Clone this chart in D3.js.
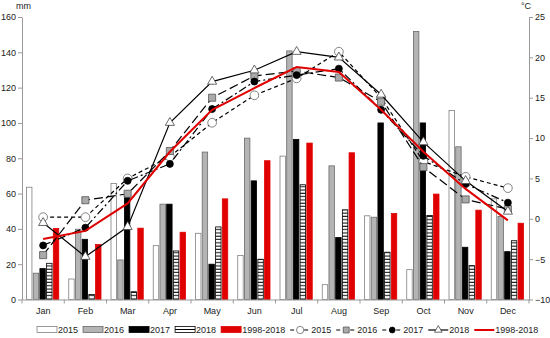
<!DOCTYPE html>
<meta charset="utf-8">
<head>
  <script src="https://d3js.org/d3.v7.min.js"></script>
</head>
<style>
body { margin: 0; background: #fff; }
svg { font-family: Arial, "Liberation Sans", sans-serif; }
.axis text { font-size: 9px; fill: #222; }
.axis path, .axis line { stroke: #999; }
.legend text { font-size: 9px; fill: #222; }
</style>
<body>
<div id="chart"></div>
<script>

var months = ["Jan", "Feb", "Mar", "Apr", "May", "Jun", "Jul", "Aug", "Sep", "Oct", "Nov", "Dec"];

// precipitation, mm
var rain2015 = [63.6, 11.6, 65.7, 30.5, 37.5, 24.9, 81.2, 8.4, 47.4, 16.9, 107.1, 57.0];
var rain2016 = [14.9, 39.8, 22.4, 54.0, 83.5, 91.4, 140.8, 75.7, 46.6, 151.8, 86.5, 47.0];
var rain2017 = [17.5, 34.1, 59.5, 54.0, 20.0, 67.2, 90.7, 35.1, 100.0, 100.0, 29.6, 27.1];
var rain2018 = [20.5, 2.9, 4.4, 27.5, 41.1, 22.8, 65.0, 50.8, 26.8, 47.6, 19.2, 33.3];
var rainMean = [40.2, 31.1, 40.4, 38.1, 57.0, 78.6, 88.6, 83.1, 48.7, 59.7, 50.6, 43.2];

// air temperature, °C
var temp2015 = [0.2, 0.2, 5.0, 7.7, 11.9, 15.3, 17.4, 20.7, 15.0, 7.1, 5.2, 3.8];
var temp2016 = [-4.5, 2.3, 3.1, 8.4, 15.0, 17.7, 18.3, 17.5, 14.5, 6.4, 2.4, 1.2];
var temp2017 = [-3.3, -1.1, 4.7, 6.8, 13.6, 17.0, 17.8, 18.6, 13.5, 7.8, 4.3, 2.0];
var temp2018 = [-0.5, -4.7, -1.0, 11.9, 17.0, 18.4, 20.7, 20.0, 15.4, 9.5, 4.7, 0.9];
var tempMean = [-2.5, -1.5, 1.9, 8.3, 13.5, 16.2, 18.8, 18.2, 13.5, 8.3, 3.7, -0.2];

var rainTicks = [0, 20, 40, 60, 80, 100, 120, 140, 160];
var tempTicks = [-10, -5, 0, 5, 10, 15, 20, 25];

var width = 550, height = 338;
var plotLeft = 22, plotRight = 529, plotTop = 17, plotBottom = 299.5;

var barSeries = [
  {name: "2015", values: rain2015, fill: "#fff", stroke: "#808080"},
  {name: "2016", values: rain2016, fill: "#b4b4b4", stroke: "#6a6a6a"},
  {name: "2017", values: rain2017, fill: "#000", stroke: "#000"},
  {name: "2018", values: rain2018, fill: "url(#stripes)", stroke: "#000"},
  {name: "1998-2018", values: rainMean, fill: "#e00000", stroke: "#e00000"}
];

var lineSeries = [
  {name: "2015", values: temp2015, color: "#000", dash: "4,3", width: 1.2, symbol: d3.symbolCircle, size: 60, mfill: "#fff", mstroke: "#666"},
  {name: "2016", values: temp2016, color: "#000", dash: "9,4", width: 1.2, symbol: d3.symbolSquare, size: 50, mfill: "#aaa", mstroke: "#555"},
  {name: "2017", values: temp2017, color: "#000", dash: "8,3,2,3", width: 1.2, symbol: d3.symbolCircle, size: 38, mfill: "#000", mstroke: "#000"},
  {name: "2018", values: temp2018, color: "#000", dash: null, width: 1.2, symbol: d3.symbolTriangle, size: 36, mfill: "#fff", mstroke: "#444"},
  {name: "1998-2018", values: tempMean, color: "#e00000", dash: null, width: 2, symbol: null}
];

var svg = d3.select("#chart").append("svg")
  .attr("width", width)
  .attr("height", height);

var defs = svg.append("defs");
var pat = defs.append("pattern")
  .attr("id", "stripes")
  .attr("patternUnits", "userSpaceOnUse")
  .attr("width", 6).attr("height", 3.3);
pat.append("rect").attr("width", 6).attr("height", 3.3).attr("fill", "#fff");
pat.append("rect").attr("y", 1.4).attr("width", 6).attr("height", 1).attr("fill", "#000");

var x = d3.scaleBand()
  .domain(months)
  .range([plotLeft, plotRight]);

var xBar = d3.scaleBand()
  .domain(barSeries.map(function(d) { return d.name; }))
  .range([4, x.bandwidth() - 5])
  .paddingInner(0.04);

var yRain = d3.scaleLinear().domain([0, 160]).range([plotBottom, plotTop]);
var yTemp = d3.scaleLinear().domain([-10, 25]).range([plotBottom, plotTop]);

// bars
var groups = svg.append("g").selectAll("g")
  .data(months)
  .enter().append("g")
  .attr("transform", function(m) { return "translate(" + x(m) + ",0)"; });

groups.selectAll("rect")
  .data(function(m, i) {
    return barSeries.map(function(s) { return {s: s, v: s.values[i]}; });
  })
  .enter().append("rect")
  .attr("x", function(d) { return xBar(d.s.name) + 0.5; })
  .attr("y", function(d) { return yRain(d.v); })
  .attr("width", xBar.bandwidth() - 1)
  .attr("height", function(d) { return plotBottom - yRain(d.v); })
  .attr("fill", function(d) { return d.s.fill; })
  .attr("stroke", function(d) { return d.s.stroke; })
  .attr("stroke-width", 0.8);

// axes
svg.append("g")
  .attr("class", "axis")
  .attr("transform", "translate(" + plotLeft + ",0)")
  .call(d3.axisLeft(yRain).tickValues(rainTicks).tickSize(4).tickSizeOuter(0).tickPadding(2));

svg.append("g")
  .attr("class", "axis")
  .attr("transform", "translate(" + plotRight + ",0)")
  .call(d3.axisRight(yTemp).tickValues(tempTicks).tickSize(4).tickSizeOuter(0).tickPadding(2))
  .call(function(g) { g.selectAll("path, line").attr("stroke", "#bbb"); });

var xAxis = svg.append("g")
  .attr("class", "axis")
  .attr("transform", "translate(0," + plotBottom + ")")
  .call(d3.axisBottom(x).tickSize(0).tickSizeOuter(0).tickPadding(8));

xAxis.selectAll(".bound")
  .data(months.concat(["end"]))
  .enter().append("line")
  .attr("class", "bound")
  .attr("x1", function(m) { return m === "end" ? plotRight : x(m); })
  .attr("x2", function(m) { return m === "end" ? plotRight : x(m); })
  .attr("y1", 0).attr("y2", 4)
  .attr("stroke", "#999");

svg.append("text")
  .attr("x", 16).attr("y", 9)
  .style("font-size", "9px").attr("fill", "#222")
  .text("mm");

svg.append("text")
  .attr("x", 521).attr("y", 9)
  .style("font-size", "9px").attr("fill", "#222")
  .text("°C");

// temperature lines
var line = d3.line()
  .x(function(d, i) { return x(months[i]) + x.bandwidth() / 2; })
  .y(function(d) { return yTemp(d); });

var lines = svg.append("g");

lineSeries.forEach(function(s) {
  lines.append("path")
    .attr("d", line(s.values))
    .attr("fill", "none")
    .attr("stroke", s.color)
    .attr("stroke-width", s.width)
    .attr("stroke-dasharray", s.dash);
  if (s.symbol) {
    lines.append("g").selectAll("path")
      .data(s.values)
      .enter().append("path")
      .attr("transform", function(d, i) {
        return "translate(" + (x(months[i]) + x.bandwidth() / 2) + "," + yTemp(d) + ")";
      })
      .attr("d", d3.symbol().type(s.symbol).size(s.size))
      .attr("fill", s.mfill)
      .attr("stroke", s.mstroke)
      .attr("stroke-width", 0.8);
  }
});

// legend
var legend = svg.append("g").attr("class", "legend");
var lx = 37, ly = 330;

barSeries.forEach(function(s) {
  legend.append("rect")
    .attr("x", lx).attr("y", ly - 3.5)
    .attr("width", 20).attr("height", 6)
    .attr("fill", s.name === "2018" ? "#fff" : s.fill)
    .attr("stroke", s.stroke).attr("stroke-width", 0.8);
  if (s.name === "2018") {
    legend.append("line").attr("x1", lx).attr("x2", lx + 20)
      .attr("y1", ly - 0.5).attr("y2", ly - 0.5).attr("stroke", "#000");
  }
  var t = legend.append("text")
    .attr("x", lx + 21).attr("y", ly + 3.3)
    .text(s.name);
  lx += 21 + t.node().getComputedTextLength() + 5;
});

lineSeries.forEach(function(s) {
  legend.append("line")
    .attr("x1", lx).attr("x2", lx + 20)
    .attr("y1", ly).attr("y2", ly)
    .attr("stroke", s.color)
    .attr("stroke-width", s.width)
    .attr("stroke-dasharray", s.dash ? "4,3" : null);
  if (s.symbol) {
    legend.append("path")
      .attr("transform", "translate(" + (lx + 10) + "," + ly + ")")
      .attr("d", d3.symbol().type(s.symbol).size(s.size * 0.7))
      .attr("fill", s.mfill)
      .attr("stroke", s.mstroke)
      .attr("stroke-width", 0.8);
  }
  var t = legend.append("text")
    .attr("x", lx + 21).attr("y", ly + 3.3)
    .text(s.name);
  lx += 21 + t.node().getComputedTextLength() + 5;
});

</script>
</body>
